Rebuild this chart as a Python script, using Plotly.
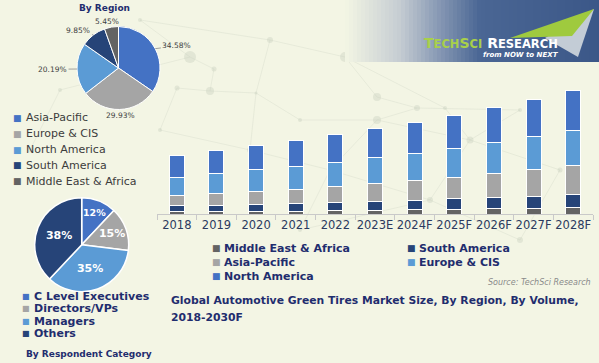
import math
import plotly.graph_objects as go

# ---------------- data ----------------
years = ["2018", "2019", "2020", "2021", "2022", "2023E", "2024F", "2025F", "2026F", "2027F", "2028F"]
mea = [7, 7, 9, 9, 12, 12, 14, 14, 17, 17, 19]
south_america = [18, 20, 20, 23, 22, 27, 28, 32, 32, 36, 39]
asia_pacific = [30, 36, 39, 43, 48, 53, 60, 65, 72, 81, 87]
europe_cis = [56, 58, 65, 67, 72, 77, 79, 87, 94, 98, 106]
north_america = [65, 70, 72, 80, 85, 87, 94, 99, 106, 113, 121]

region_labels = ["Asia-Pacific", "Europe & CIS", "North America", "South America", "Middle East & Africa"]
region_shares = [34.58, 29.93, 20.19, 9.85, 5.45]

resp_labels = ["C Level Executives", "Directors/VPs", "Managers", "Others"]
resp_shares = [12, 15, 35, 38]

# ---------------- styles ----------------
W, H = 599, 363
BG = "#f3f5e4"
NAVY = "#1f2d6e"
C_BLUE = "#4472c4"
C_LBLUE = "#5b9bd5"
C_GREY = "#a5a5a5"
C_NAVY = "#264478"
C_DGREY = "#636363"
FONT = "DejaVu Sans"


def X(px):
    return px / W


def Y(py):
    return 1 - py / H


fig = go.Figure()

shapes = []
annotations = []

# ---------- faint network decoration (background) ----------
nodes = [(190, 57), (214, 69), (177, 88), (210, 91), (256, 93), (270, 40), (345, 57), (377, 97),
         (417, 108), (377, 120), (445, 108), (300, 120), (250, 150), (330, 170), (470, 140), (520, 110),
         (160, 130), (430, 200), (560, 170), (300, 230), (520, 240), (60, 90), (30, 150), (140, 20)]
edges = [(0, 1), (1, 3), (2, 3), (3, 4), (4, 5), (5, 6), (6, 7), (7, 8), (8, 9), (9, 11), (11, 4), (4, 12),
         (12, 13), (13, 9), (9, 14), (14, 15), (15, 8), (12, 16), (16, 2), (13, 17), (17, 14), (14, 18),
         (17, 19), (19, 13), (18, 20), (20, 17), (21, 22), (21, 0), (23, 0), (23, 5), (6, 10), (10, 14)]
for a, b in edges:
    (xa, ya), (xb, yb) = nodes[a], nodes[b]
    shapes.append(dict(type="line", xref="paper", yref="paper", x0=X(xa), y0=Y(ya), x1=X(xb), y1=Y(yb),
                       line=dict(color="rgba(205,210,195,0.4)", width=0.8), layer="below"))
for i, (xa, ya) in enumerate(nodes):
    rr = [6, 2.5, 2.5, 4, 1.5, 3, 5, 4, 3, 4, 2, 2, 3, 2.5, 3.5, 2, 2, 3, 2.5, 2, 3, 2, 2.5, 2][i]
    shapes.append(dict(type="circle", xref="paper", yref="paper", x0=X(xa - rr), x1=X(xa + rr),
                       y0=Y(ya + rr), y1=Y(ya - rr), fillcolor="rgba(200,208,190,0.4)",
                       line=dict(width=0), layer="below"))

# ---------- stacked bars ----------
series = [
    ("Middle East & Africa", mea, C_DGREY),
    ("South America", south_america, C_NAVY),
    ("Asia-Pacific", asia_pacific, C_GREY),
    ("Europe & CIS", europe_cis, C_LBLUE),
    ("North America", north_america, C_BLUE),
]
for name, vals, col in series:
    fig.add_trace(go.Bar(
        x=years, y=vals, name=name, marker=dict(color=col, line=dict(color="white", width=1)),
        width=0.38, showlegend=False, xaxis="x", yaxis="y"))

# ---------- pies ----------
p1_cx, p1_cy, p1_r = 118.5, 68, 41.5
fig.add_trace(go.Pie(
    labels=region_labels, values=region_shares, sort=False, direction="clockwise", rotation=0,
    marker=dict(colors=[C_BLUE, C_GREY, C_LBLUE, C_NAVY, C_DGREY], line=dict(color="white", width=1)),
    textinfo="none", showlegend=False,
    domain=dict(x=[X(p1_cx - p1_r), X(p1_cx + p1_r)], y=[Y(p1_cy + p1_r), Y(p1_cy - p1_r)])))

p2_cx, p2_cy, p2_r = 81.7, 244.7, 47
fig.add_trace(go.Pie(
    labels=resp_labels, values=resp_shares, sort=False, direction="clockwise", rotation=0,
    marker=dict(colors=[C_BLUE, C_GREY, C_LBLUE, C_NAVY], line=dict(color="white", width=1.5)),
    texttemplate="%{value}%", textposition="inside", insidetextorientation="horizontal",
    textfont=dict(family=FONT, size=11, color="white", weight="bold"), showlegend=False,
    domain=dict(x=[X(p2_cx - p2_r), X(p2_cx + p2_r)], y=[Y(p2_cy + p2_r), Y(p2_cy - p2_r)])))

# ---------- banner gradient ----------
stops = [(345, (0xf3, 0xf5, 0xe4)), (400, (0xc5, 0xcc, 0xd2)), (440, (0x85, 0x97, 0xb3)),
         (480, (0x4a, 0x66, 0x94)), (600, (0x3b, 0x57, 0x88))]
step = 4
x0 = 345
while x0 < 600:
    xm = x0 + step / 2
    c = stops[-1][1]
    for (a, ca), (b, cb) in zip(stops[:-1], stops[1:]):
        if a <= xm <= b:
            t = (xm - a) / (b - a)
            c = tuple(int(round(ca[i] + (cb[i] - ca[i]) * t)) for i in range(3))
            break
    shapes.append(dict(type="rect", xref="paper", yref="paper", x0=X(x0), x1=X(min(x0 + step + 0.5, 600)),
                       y0=Y(62), y1=Y(0), fillcolor="rgb(%d,%d,%d)" % c, line=dict(width=0), layer="below"))
    x0 += step


def path(pts):
    return "M " + " L ".join("%.4f,%.4f" % (X(a), Y(b)) for a, b in pts) + " Z"


shapes.append(dict(type="path", xref="paper", yref="paper", path=path([(545, 38), (594, 9), (578, 57)]),
                   fillcolor="#c3ccd6", line=dict(width=0), layer="below"))
shapes.append(dict(type="path", xref="paper", yref="paper", path=path([(510, 38), (594, 9), (572, 36)]),
                   fillcolor="#9fca3e", line=dict(width=0), layer="below"))

annotations.append(dict(
    xref="paper", yref="paper", x=X(422), y=Y(43), xanchor="left", yanchor="middle", showarrow=False,
    text=('<span style="color:#a8d04a">T<span style="font-size:11.5px">ECH</span>S<span style="font-size:11.5px">CI</span></span>'
          ' <span style="color:white">R<span style="font-size:11.5px">ESEARCH</span></span>'),
    font=dict(family=FONT, size=14, weight="bold")))
annotations.append(dict(
    xref="paper", yref="paper", x=X(561), y=Y(55), xanchor="right", yanchor="middle", showarrow=False,
    text="<i>from NOW to NEXT</i>", font=dict(family=FONT, size=7, color="white", weight="bold")))

# ---------- pie 1 title and labels ----------
annotations.append(dict(xref="paper", yref="paper", x=X(104), y=Y(8.5), xanchor="center", yanchor="middle",
                        showarrow=False, text="<b>By Region</b>", font=dict(family=FONT, size=9, color=NAVY)))

cum = 0
tot = sum(region_shares)
RX, RY = 66, 47.5
for lab, v in zip(region_labels, region_shares):
    mid = (cum + v / 2) / tot * 2 * math.pi
    cum += v
    s, c = math.sin(mid), math.cos(mid)
    ex, ey = p1_cx + p1_r * s, p1_cy - p1_r * c
    tx, ty = p1_cx + RX * s, p1_cy - RY * c
    annotations.append(dict(
        xref="paper", yref="paper", x=X(ex), y=Y(ey), ax=tx - ex, ay=ty - ey,
        showarrow=True, arrowhead=0, arrowwidth=0.8, arrowcolor="#8c8c8c", standoff=0,
        text="%.2f%%" % v, font=dict(family=FONT, size=7.5, color="#404040")))

# pie 1 legend
leg1_cols = [C_BLUE, C_GREY, C_LBLUE, C_NAVY, C_DGREY]
for i, (lab, col) in enumerate(zip(region_labels, leg1_cols)):
    yy = 117.7 + i * 15.9
    annotations.append(dict(xref="paper", yref="paper", x=X(17), y=Y(yy), xanchor="center", yanchor="middle",
                            showarrow=False, text="■", font=dict(family=FONT, size=9, color=col)))
    annotations.append(dict(xref="paper", yref="paper", x=X(24), y=Y(yy), xanchor="left", yanchor="middle",
                            showarrow=False, text=lab, font=dict(family=FONT, size=11, color="#3c3c3c")))

# pie 2 legend
leg2_cols = [C_BLUE, C_GREY, C_LBLUE, C_NAVY]
for i, (lab, col) in enumerate(zip(resp_labels, leg2_cols)):
    yy = 296.7 + i * 12.2
    annotations.append(dict(xref="paper", yref="paper", x=X(26.5), y=Y(yy), xanchor="center", yanchor="middle",
                            showarrow=False, text="■", font=dict(family=FONT, size=8, color=col)))
    annotations.append(dict(xref="paper", yref="paper", x=X(31.5), y=Y(yy), xanchor="left", yanchor="middle",
                            showarrow=False, text="<b>%s</b>" % lab, font=dict(family=FONT, size=11, color=NAVY)))
annotations.append(dict(xref="paper", yref="paper", x=X(24), y=Y(354.3), xanchor="left", yanchor="middle",
                        showarrow=False, text="<b>By Respondent Category</b>",
                        font=dict(family=FONT, size=9, color=NAVY)))

# ---------- bar legend ----------
leg_pos = [(216.7, 248), (411, 248), (216.7, 262), (411, 262), (216.7, 276)]
for (name, vals, col), (lx, ly) in zip(series, leg_pos):
    annotations.append(dict(xref="paper", yref="paper", x=X(lx), y=Y(ly), xanchor="center", yanchor="middle",
                            showarrow=False, text="■", font=dict(family=FONT, size=9, color=col)))
    annotations.append(dict(xref="paper", yref="paper", x=X(lx + 5.5), y=Y(ly), xanchor="left", yanchor="middle",
                            showarrow=False, text="<b>%s</b>" % name, font=dict(family=FONT, size=11, color=NAVY)))

annotations.append(dict(xref="paper", yref="paper", x=X(593), y=Y(282.7), xanchor="right", yanchor="middle",
                        showarrow=False, text="<i>Source: TechSci Research</i>",
                        font=dict(family=FONT, size=8, color="#8a8a8a")))

annotations.append(dict(xref="paper", yref="paper", x=X(169), y=Y(300), xanchor="left", yanchor="middle",
                        showarrow=False,
                        text="<b>Global Automotive Green Tires Market Size, By Region, By Volume,</b>",
                        font=dict(family=FONT, size=10.8, color=NAVY)))
annotations.append(dict(xref="paper", yref="paper", x=X(169), y=Y(317.7), xanchor="left", yanchor="middle",
                        showarrow=False, text="<b>2018-2030F</b>",
                        font=dict(family=FONT, size=10.8, color=NAVY)))

fig.update_layout(
    width=W, height=H, margin=dict(l=0, r=0, t=0, b=0),
    paper_bgcolor=BG, plot_bgcolor="rgba(0,0,0,0)",
    barmode="stack", bargap=0.6,
    xaxis=dict(domain=[X(157), X(593)], type="category", showgrid=False, zeroline=False,
               showline=True, linecolor="#c9c9c9", linewidth=1,
               ticks="outside", tickson="boundaries", ticklen=5, tickcolor="#c9c9c9", tickangle=0,
               tickfont=dict(family=FONT, size=11.5, color="#2b3a60"), fixedrange=True),
    yaxis=dict(domain=[Y(214), Y(80)], range=[0, 402], visible=False, fixedrange=True),
    shapes=shapes, annotations=annotations,
    showlegend=False,
)

fig.write_html("out.html")
